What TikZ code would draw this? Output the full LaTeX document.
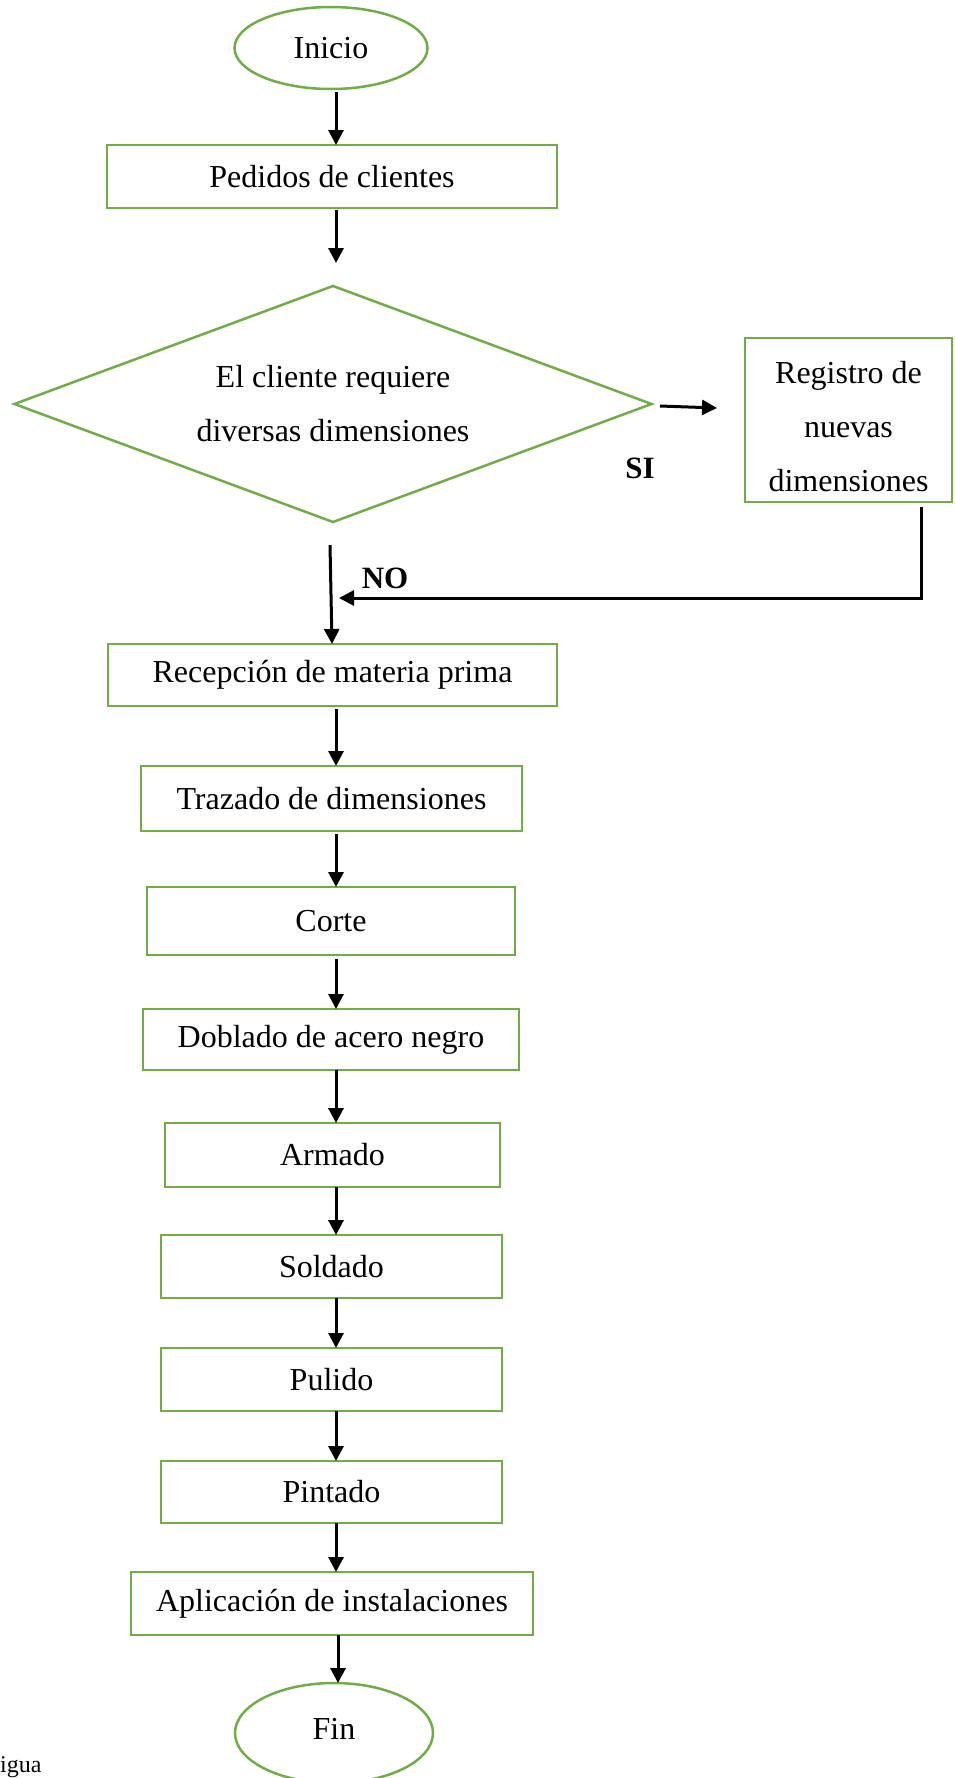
\documentclass[tikz,border=0pt]{standalone}
\usepackage{fontspec}
\setmainfont{Liberation Serif}
\usetikzlibrary{arrows.meta,shapes.geometric}
\definecolor{ogreen}{HTML}{70AD47}
\tikzset{
  box/.style={draw=ogreen,line width=2.5pt,rectangle,inner sep=0pt,outer sep=0pt,font=\fontsize{32}{54}\selectfont,align=center},
  oval/.style={draw=ogreen,line width=2.5pt,ellipse,inner sep=0pt,outer sep=0pt,font=\fontsize{32}{54}\selectfont},
  plaintext/.style={rectangle,inner sep=0pt,outer sep=0pt,font=\fontsize{32}{54}\selectfont,align=center},
  diaedge/.style={draw=ogreen,line width=2.5pt,line join=miter},
  arr/.style={draw=black,line width=3pt,-{Triangle[length=15pt,width=15pt]}},
  lbl/.style={font=\fontsize{31}{36}\selectfont\bfseries,inner sep=0pt,anchor=base}
}
\begin{document}
\begin{tikzpicture}[x=1pt,y=-1pt]
\useasboundingbox (0,0) rectangle (955,1778);
\node[oval,minimum width=193pt,minimum height=82pt] (inicio) at (331,48) {Inicio};
\node[box,minimum width=450pt,minimum height=63pt] (pedidos) at (332,176.5) {Pedidos de clientes};
\node[plaintext,minimum width=637pt,minimum height=236pt] (dec) at (333,404) {El cliente requiere\\diversas dimensiones};
\draw[diaedge] (dec.north) -- (dec.east) -- (dec.south) -- (dec.west) -- cycle;
\node[box,minimum width=207pt,minimum height=164pt] (reg) at (848.5,420) {};
\node[plaintext] (regtext) at ([yshift=-7pt]reg.center) {Registro de\\nuevas\\dimensiones};
\node[box,minimum width=449pt,minimum height=62pt] (recep) at (332.5,675) {Recepción de materia prima};
\node[box,minimum width=381pt,minimum height=65pt] (traz) at (331.5,798.5) {Trazado de dimensiones};
\node[box,minimum width=368pt,minimum height=68pt] (corte) at (331,921) {Corte};
\node[box,minimum width=376pt,minimum height=61pt] (dobl) at (331,1039.5) {Doblado de acero negro};
\node[box,minimum width=335pt,minimum height=64pt] (arm) at (332.5,1155) {Armado};
\node[box,minimum width=341pt,minimum height=63pt] (sold) at (331.5,1266.5) {Soldado};
\node[box,minimum width=341pt,minimum height=63pt] (pul) at (331.5,1379.5) {Pulido};
\node[box,minimum width=341pt,minimum height=62pt] (pint) at (331.5,1492) {Pintado};
\node[box,minimum width=402pt,minimum height=63pt] (apl) at (332,1603.5) {Aplicación de instalaciones};
\node[oval,minimum width=198pt,minimum height=100pt] (fin) at (334,1733) {};
\node[plaintext] (fintext) at ([yshift=4pt]fin.center) {Fin};
\node[lbl] (si) at (640,478) {SI};
\node[lbl] (no) at (385,588) {NO};
\node[font=\fontsize{24}{28}\selectfont,inner sep=0pt,anchor=base west] (igua) at (0,1772) {igua};
\coordinate (join) at (339,598);
% connectors
\draw[arr] ([xshift=5pt,yshift=-3pt]inicio.south) -- ([xshift=5pt]inicio.south |- pedidos.north);
\draw[arr] ([xshift=4pt,yshift=-2pt]pedidos.south) -- ([xshift=4pt,yshift=23pt]pedidos.south |- dec.north);
\draw[arr] ([xshift=8.5pt,yshift=-2pt]dec.east) -- ([xshift=-28pt,yshift=12pt]reg.west);
\draw[arr] ([xshift=-3pt,yshift=-23pt]dec.south) -- ([xshift=-0.5pt]recep.north);
\draw[arr] ([xshift=72.5pt,yshift=-5pt]reg.south) |- (join);
\draw[arr] ([xshift=3.5pt,yshift=-3pt]recep.south) -- ([xshift=3.5pt]recep.south |- traz.north);
\draw[arr] ([xshift=4.5pt,yshift=-3pt]traz.south) -- ([xshift=4.5pt]traz.south |- corte.north);
\draw[arr] ([xshift=5pt,yshift=-4pt]corte.south) -- ([xshift=5pt]corte.south |- dobl.north);
\draw[arr] ([xshift=5pt]dobl.south) -- ([xshift=5pt]dobl.south |- arm.north);
\draw[arr] ([xshift=3.5pt]arm.south) -- ([xshift=3.5pt]arm.south |- sold.north);
\draw[arr] ([xshift=4.5pt]sold.south) -- ([xshift=4.5pt]sold.south |- pul.north);
\draw[arr] ([xshift=4.5pt]pul.south) -- ([xshift=4.5pt]pul.south |- pint.north);
\draw[arr] ([xshift=4.5pt]pint.south) -- ([xshift=4.5pt]pint.south |- apl.north);
\draw[arr] ([xshift=6pt]apl.south) -- ([xshift=6pt]apl.south |- fin.north);
\end{tikzpicture}
\end{document}
